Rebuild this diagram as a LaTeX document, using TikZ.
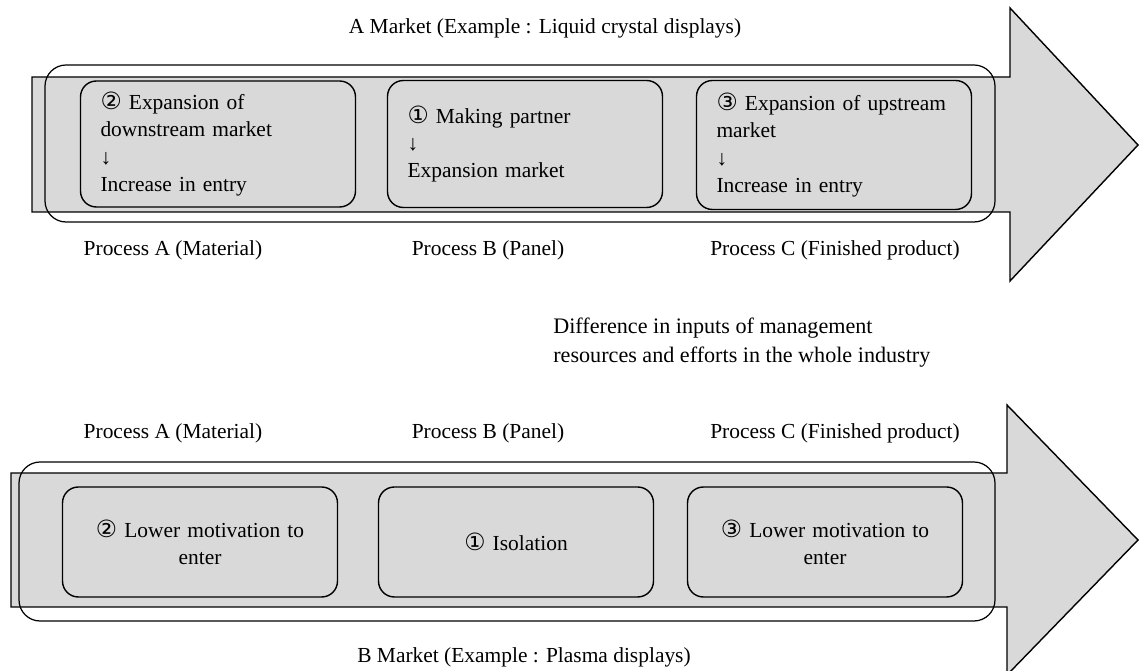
\documentclass[tikz,border=0pt]{standalone}
\usepackage{fontspec}
\setmainfont{Liberation Serif}
\newfontfamily\circfont{DejaVu Sans}
\definecolor{panelgrey}{RGB}{217, 217, 217}
\usetikzlibrary{positioning}
\newcommand{\cnum}[1]{{\circfont\fontsize{13.5}{15}\selectfont #1}}

\begin{document}
\begin{tikzpicture}[x=0.02cm, y=-0.02cm,
        every node/.style={font=\fontsize{12.2}{15.5}\selectfont},
        flowarrow/.style={draw, fill=panelgrey, line width=0.8pt, line join=miter},
        marketframe/.style={draw, rounded corners=12pt, line width=0.7pt},
        stagebox/.style={draw, fill=panelgrey, rounded corners=9pt, line width=0.8pt, minimum width=5.5cm, text width=4.7cm, inner sep=0pt},
        procname/.style={inner sep=0pt},
      ]
      \useasboundingbox (0,0) rectangle (1139,671);

      % A market
      \draw[flowarrow] (32,77) -- (1010,77) -- (1010,8) -- (1138,145) -- (1010,281) -- (1010,212) -- (32,212) -- cycle;
      \draw[marketframe] (45,65) rectangle (995,222);
      \node[procname] (titleA) at (545,28) {A Market (Example : Liquid crystal displays)};
      \node[stagebox, minimum height=2.52cm, align=left] (a2) at (218,144) {\cnum{②} Expansion of\\ downstream market\\ ↓\\ Increase in entry};
      \node[stagebox, minimum height=2.54cm, align=left] (a1) at (525,144) {\cnum{①} Making partner\\ ↓\\ Expansion market};
      \node[stagebox, minimum height=2.58cm, align=left] (a3) at (834,145) {\cnum{③} Expansion of upstream\\ market\\ ↓\\ Increase in entry};
      \node[procname] (pA1) at (173,250) {Process A (Material)};
      \node[procname] (pB1) at (488,250) {Process B (Panel)};
      \node[procname] (pC1) at (835,250) {Process C (Finished product)};

      % difference
      \node[procname, anchor=west, align=left, font=\fontsize{12.6}{16.5}\selectfont] (gap) at (553,343) {Difference in inputs of management\\ resources and efforts in the whole industry};

      % B market
      \node[procname] (pA2) at (173,433) {Process A (Material)};
      \node[procname] (pB2) at (488,433) {Process B (Panel)};
      \node[procname] (pC2) at (835,433) {Process C (Finished product)};
      \draw[flowarrow] (11,473) -- (1007,473) -- (1007,405) -- (1138,540) -- (1007,675) -- (1007,607) -- (11,607) -- cycle;
      \draw[marketframe] (19,462) rectangle (995,621);
      \node[stagebox, minimum height=2.2cm, align=center] (b2) at (200,542) {\cnum{②} Lower motivation to\\ enter};
      \node[stagebox, minimum height=2.2cm, align=center] (b1) at (516,542) {\cnum{①} Isolation};
      \node[stagebox, minimum height=2.2cm, align=center] (b3) at (825,542) {\cnum{③} Lower motivation to\\ enter};
      \node[procname] (titleB) at (524,657) {B Market (Example : Plasma displays)};
      \end{tikzpicture}
\end{document}
